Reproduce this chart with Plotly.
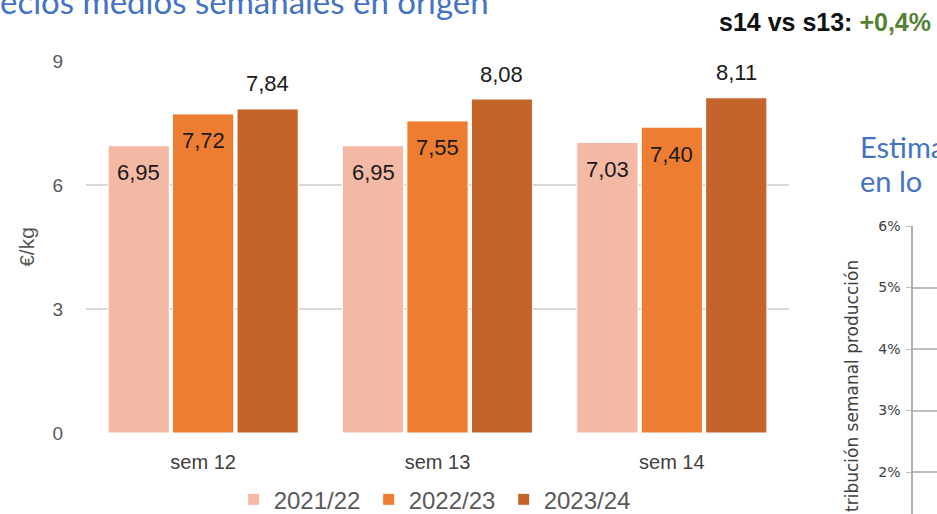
import plotly.graph_objects as go

categories = ["sem 12", "sem 13", "sem 14"]
series_names = ["2021/22", "2022/23", "2023/24"]
values_2122 = [6.95, 6.95, 7.03]
values_2223 = [7.72, 7.55, 7.40]
values_2324 = [7.84, 8.08, 8.11]
y_ticks = [0, 3, 6, 9]
right_ticks = [2, 3, 4, 5, 6]
right_tick_labels = [f"{v}%" for v in right_ticks]

colors = ["#F4B9A5", "#ED7D31", "#C4642A"]
series_values = [values_2122, values_2223, values_2324]

W, H = 937, 514
x0, x1 = 86, 789
yt, yb = 61, 433
bargap = 0.175

fig = go.Figure()
for name, vals, col in zip(series_names, series_values, colors):
    fig.add_trace(go.Bar(
        x=categories, y=vals, name=name,
        marker=dict(color=col, line=dict(color="white", width=1)),
        hoverinfo="skip",
    ))

fig.add_trace(go.Scatter(x=[], y=[], xaxis="x2", yaxis="y2", showlegend=False))

# data labels
slot_px = (x1 - x0) / len(categories) * (1 - bargap) / len(series_names)
inside = [True, True, False]
for si, vals in enumerate(series_values):
    shift = (si - 1) * slot_px
    for c, v in zip(categories, vals):
        fig.add_annotation(
            x=c, y=v, xref="x", yref="y", xshift=shift,
            yshift=-27 if inside[si] else 25,
            text=f"{v:.2f}".replace(".", ","), showarrow=False,
            font=dict(family="Liberation Sans", size=22, color="#1a1a1a"),
        )

fig.update_layout(
    width=W, height=H,
    margin=dict(l=0, r=0, t=0, b=0, autoexpand=False),
    paper_bgcolor="white", plot_bgcolor="white",
    barmode="group", bargap=bargap, bargroupgap=0.05,
    showlegend=True,
    legend=dict(orientation="h", x=0.4655, xanchor="center", y=-0.016, yanchor="bottom",
                bgcolor="rgba(0,0,0,0)",
                font=dict(family="Liberation Sans", size=24, color="#595959"),
                entrywidth=90, itemwidth=30),
    xaxis=dict(domain=[x0 / W, x1 / W], showgrid=False, showline=False, zeroline=False,
               tickfont=dict(family="Liberation Sans", size=20, color="#404040"),
               ticks="", ticklabelstandoff=15, anchor="y", automargin=False),
    yaxis=dict(domain=[(H - yb) / H, (H - yt) / H], range=[0, 9], tickvals=y_ticks,
               showgrid=True, gridcolor="#D9D9D9", gridwidth=2, zeroline=False,
               showline=False,
               tickfont=dict(family="Liberation Sans", size=19, color="#595959"),
               ticklabelstandoff=22,
               title=dict(text="€/kg", font=dict(family="Liberation Sans", size=21, color="#595959"),
                          standoff=12),
               anchor="x", automargin=False),
    xaxis2=dict(domain=[913 / W, 1], range=[0, 1], showgrid=False, showticklabels=False,
                zeroline=False, showline=False, anchor="y2", automargin=False),
    yaxis2=dict(domain=[0, (H - 226) / H], range=[6 - 288 / 61.5, 6], tickvals=right_ticks,
                ticktext=right_tick_labels, showgrid=True, gridcolor="#BFBFBF", gridwidth=1.5,
                zeroline=False, showline=True, linecolor="#B0B0B0", linewidth=1.5,
                ticks="outside", ticklen=5, tickcolor="#BFBFBF", ticklabelstandoff=3,
                tickfont=dict(family="DejaVu Sans", size=14, color="#404040"),
                anchor="x2", automargin=False),
)

# titles / texts
fig.add_annotation(x=0, y=1, xref="paper", yref="paper", xanchor="left", yanchor="middle",
                   yshift=-1, xshift=-2, text="ecios medios semanales en origen", showarrow=False,
                   font=dict(family="Lato", size=33, color="#4472C4"))
fig.add_annotation(x=933 / W, y=(H - 22) / H, xref="paper", yref="paper", xanchor="right",
                   yanchor="middle", showarrow=False,
                   text="<b>s14 vs s13: <span style='color:#548235'>+0,4%</span></b>",
                   font=dict(family="Liberation Sans", size=25, color="#111111"))
fig.add_annotation(x=858 / W, y=(H - 146) / H, xref="paper", yref="paper", xanchor="left",
                   yanchor="middle", showarrow=False, text="Estimación",
                   font=dict(family="Lato", size=29, color="#4472C4"))
fig.add_annotation(x=858 / W, y=(H - 181) / H, xref="paper", yref="paper", xanchor="left",
                   yanchor="middle", showarrow=False, text="en lo",
                   font=dict(family="Lato", size=29, color="#4472C4"))
fig.add_annotation(x=852 / W, y=(H - 386) / H, xref="paper", yref="paper", xanchor="center",
                   yanchor="middle", showarrow=False, textangle=-90,
                   text="tribución semanal producción",
                   font=dict(family="DejaVu Sans", size=17, color="#404040"))

fig.write_html("out.html", config={"displayModeBar": False},
               post_script="document.body.style.margin='0';")
